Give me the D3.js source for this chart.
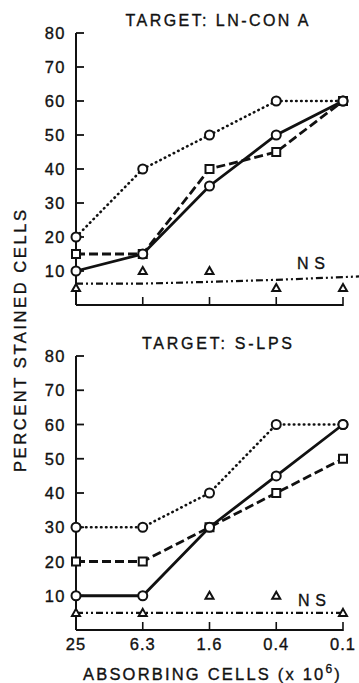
<!DOCTYPE html>
<html>
<head>
<meta charset="utf-8">
<script src="https://cdn.jsdelivr.net/npm/d3@7"></script>
<style>
body { margin: 0; background: #fff; }
svg { display: block; }
text { font-family: "Liberation Sans", Arial, sans-serif; fill: #111; stroke: #111; stroke-width: 0.35px; }
</style>
</head>
<body>
<script>
var width = 359
var height = 683

var doses = ["25", "6.3", "1.6", "0.4", "0.1"]
var yTicks = [10, 20, 30, 40, 50, 60, 70, 80]

// top panel: target LN-CON A
var topDotted = [20, 40, 50, 60, 60]
var topSolid = [10, 15, 35, 50, 60]
var topDashed = [15, 15, 40, 45, 60]
var topTriangles = [5, 10, 10, 5, 5]
var topNsLine = [6.3, 6.3, 6.8, 7.4, 8.2]

// bottom panel: target S-LPS
var botDotted = [30, 30, 40, 60, 60]
var botSolid = [10, 10, 30, 45, 60]
var botDashed = [20, 20, 30, 40, 50]
var botTriangles = [5, 5, 10, 10, 5]
var botNsLine = [5, 5, 5, 5, 5]

var svg = d3.select("body").append("svg")
.attr("width", width)
.attr("height", height)

var x = d3.scalePoint()
.domain(doses)
.range([76, 343])

function panel(opts) {
    var y = d3.scaleLinear().domain([0, 80]).range([opts.bottom, opts.top])
    var g = svg.append("g")

    // axes
    g.append("line").attr("x1", 76).attr("x2", 76).attr("y1", y(80)).attr("y2", y(0))
    .attr("stroke", "#111").attr("stroke-width", 2)
    g.append("line").attr("x1", 76).attr("x2", 343).attr("y1", y(0)).attr("y2", y(0))
    .attr("stroke", "#111").attr("stroke-width", 2)

    g.selectAll(".yt").data(yTicks).enter().append("line")
    .attr("x1", 76).attr("x2", 84)
    .attr("y1", function(d) { return y(d) }).attr("y2", function(d) { return y(d) })
    .attr("stroke", "#111").attr("stroke-width", 1.8)

    g.selectAll(".yl").data(yTicks).enter().append("text")
    .attr("x", 66).attr("y", function(d) { return y(d) + 6 })
    .attr("text-anchor", "end")
    .style("font-size", "16.5px")
    .style("letter-spacing", "1.5px")
    .text(function(d) { return d })

    g.selectAll(".xt").data(doses.slice(1)).enter().append("line")
    .attr("x1", function(d) { return x(d) }).attr("x2", function(d) { return x(d) })
    .attr("y1", y(0) + 1).attr("y2", y(0) - 8)
    .attr("stroke", "#111").attr("stroke-width", 1.6)

    g.append("text")
    .attr("x", 217).attr("y", opts.top - 7)
    .attr("text-anchor", "middle")
    .attr("textLength", opts.titleLen).attr("lengthAdjust", "spacing")
    .style("font-size", "16px")
    .text(opts.title)

    var line = d3.line()
    .x(function(d, i) { return x(doses[i]) })
    .y(function(d) { return y(d) })

    // NS regression line
    var ns = opts.ns
    var nsPath = d3.line()
    .x(function(d) { return d[0] })
    .y(function(d) { return y(d[1]) })
    var pts = ns.map(function(d, i) { return [x(doses[i]), d] })
    if (opts.nsExtend) {
        var n = ns.length
        var slope = (ns[n - 1] - ns[n - 2]) / (x(doses[n - 1]) - x(doses[n - 2]))
        pts.push([width, ns[n - 1] + slope * (width - x(doses[n - 1]))])
    }
    g.append("path").attr("d", nsPath(pts))
    .attr("fill", "none").attr("stroke", "#111").attr("stroke-width", 2.2)
    .attr("stroke-dasharray", "7,3,2,3,2,3")

    g.append("path").attr("d", line(opts.dotted))
    .attr("fill", "none").attr("stroke", "#111").attr("stroke-width", 2.6)
    .attr("stroke-linecap", "round")
    .attr("stroke-dasharray", "0.5,4.5")

    g.append("path").attr("d", line(opts.dashed))
    .attr("fill", "none").attr("stroke", "#111").attr("stroke-width", 2.8)
    .attr("stroke-dasharray", "9,4")

    g.append("path").attr("d", line(opts.solid))
    .attr("fill", "none").attr("stroke", "#111").attr("stroke-width", 2.8)

    // markers
    g.selectAll(".tri").data(opts.tri).enter().append("path")
    .attr("d", "M0,-4 L4,3 L-4,3 Z")
    .attr("transform", function(d, i) { return "translate(" + x(doses[i]) + "," + y(d) + ")" })
    .attr("fill", "#fff").attr("stroke", "#111").attr("stroke-width", 2)

    g.selectAll(".sq").data(opts.dashed).enter().append("rect")
    .attr("x", function(d, i) { return x(doses[i]) - 4 })
    .attr("y", function(d) { return y(d) - 4 })
    .attr("width", 8).attr("height", 8)
    .attr("fill", "#fff").attr("stroke", "#111").attr("stroke-width", 2)

    g.selectAll(".cd").data(opts.dotted).enter().append("circle")
    .attr("cx", function(d, i) { return x(doses[i]) })
    .attr("cy", function(d) { return y(d) })
    .attr("r", 4.5)
    .attr("fill", "#fff").attr("stroke", "#111").attr("stroke-width", 2)

    g.selectAll(".cs").data(opts.solid).enter().append("circle")
    .attr("cx", function(d, i) { return x(doses[i]) })
    .attr("cy", function(d) { return y(d) })
    .attr("r", 4.5)
    .attr("fill", "#fff").attr("stroke", "#111").attr("stroke-width", 2)

    g.append("text")
    .attr("x", opts.nsX).attr("y", y(opts.nsY))
    .attr("textLength", 28).attr("lengthAdjust", "spacing")
    .style("font-size", "16px")
    .text("NS")

    return y
}

panel({
    top: 33, bottom: 305, title: "TARGET: LN-CON A", titleLen: 183,
    dotted: topDotted, solid: topSolid, dashed: topDashed, tri: topTriangles,
    ns: topNsLine, nsExtend: true, nsX: 297, nsY: 10.5
})

panel({
    top: 356, bottom: 630, title: "TARGET: S-LPS", titleLen: 150,
    dotted: botDotted, solid: botSolid, dashed: botDashed, tri: botTriangles,
    ns: botNsLine, nsExtend: false, nsX: 298, nsY: 7
})

svg.selectAll(".xl").data(doses).enter().append("text")
.attr("x", function(d) { return x(d) })
.attr("y", 650)
.attr("text-anchor", "middle")
.style("font-size", "16.5px")
.style("letter-spacing", "1px")
.text(function(d) { return d })

var xl = svg.append("text")
.attr("x", 83).attr("y", 680)
.style("font-size", "16.5px")
.style("letter-spacing", "2.2px")
xl.append("tspan").text("ABSORBING CELLS (x 10")
xl.append("tspan").attr("dy", -7).style("font-size", "12px").text("6")
xl.append("tspan").attr("dy", 7).text(")")

svg.append("text")
.attr("transform", "translate(26,341) rotate(-90)")
.attr("text-anchor", "middle")
.attr("textLength", 262).attr("lengthAdjust", "spacing")
.style("font-size", "16.5px")
.text("PERCENT STAINED CELLS")
</script>
</body>
</html>
